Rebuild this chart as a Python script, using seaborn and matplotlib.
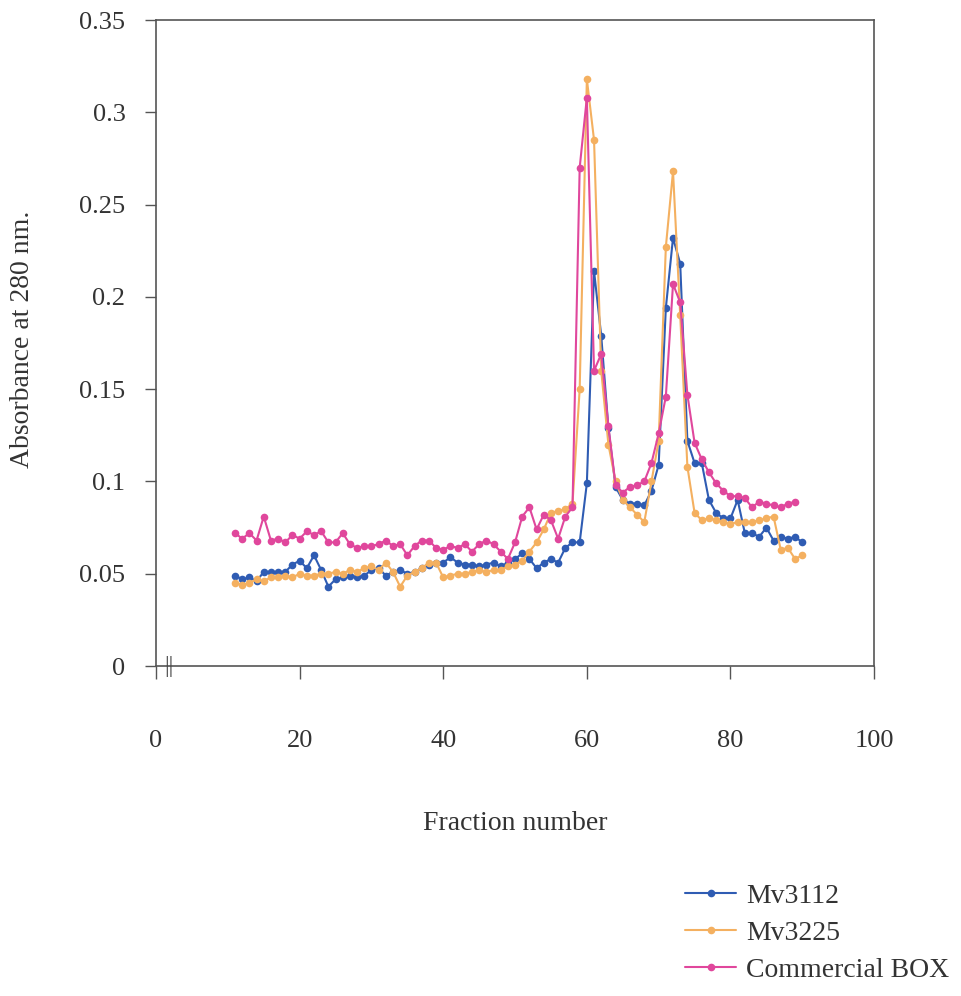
import matplotlib
matplotlib.use("Agg")
import matplotlib.pyplot as plt
import seaborn as sns
import pandas as pd

# Fraction numbers collected for each sample
fractions_mv3112 = [11, 12, 13, 14, 15, 16, 17, 18, 19, 20,
                    21, 22, 23, 24, 25, 26, 27, 28, 29, 30,
                    31, 32, 33, 34, 35, 36, 37, 38, 39, 40,
                    41, 42, 43, 44, 45, 46, 47, 48, 49, 50,
                    51, 52, 53, 54, 55, 56, 57, 58, 59, 60,
                    61, 62, 63, 64, 65, 66, 67, 68, 69, 70,
                    71, 72, 73, 74, 75, 76, 77, 78, 79, 80,
                    81, 82, 83, 84, 85, 86, 87, 88, 89, 90]
fractions_mv3225 = fractions_mv3112
fractions_box = fractions_mv3112[:-1]

# Absorbance at 280 nm for each fraction
abs_mv3112 = [0.049, 0.047, 0.048, 0.046, 0.051, 0.051, 0.051, 0.051, 0.055, 0.057,
              0.053, 0.060, 0.052, 0.043, 0.047, 0.048, 0.049, 0.048, 0.049, 0.052,
              0.053, 0.049, 0.051, 0.052, 0.050, 0.051, 0.053, 0.055, 0.056, 0.056,
              0.059, 0.056, 0.055, 0.055, 0.054, 0.055, 0.056, 0.054, 0.056, 0.058,
              0.061, 0.058, 0.053, 0.056, 0.058, 0.056, 0.064, 0.067, 0.067, 0.099,
              0.214, 0.179, 0.129, 0.097, 0.090, 0.088, 0.088, 0.087, 0.095, 0.109,
              0.194, 0.232, 0.218, 0.122, 0.110, 0.110, 0.090, 0.083, 0.080, 0.080,
              0.090, 0.072, 0.072, 0.070, 0.075, 0.068, 0.070, 0.069, 0.070, 0.067]

abs_mv3225 = [0.045, 0.044, 0.045, 0.047, 0.046, 0.048, 0.048, 0.049, 0.048, 0.050,
              0.049, 0.049, 0.050, 0.050, 0.051, 0.050, 0.052, 0.051, 0.053, 0.054,
              0.052, 0.056, 0.051, 0.043, 0.049, 0.051, 0.053, 0.056, 0.056, 0.048,
              0.049, 0.050, 0.050, 0.051, 0.052, 0.051, 0.052, 0.052, 0.054, 0.055,
              0.057, 0.062, 0.067, 0.074, 0.083, 0.084, 0.085, 0.088, 0.150, 0.318,
              0.285, 0.160, 0.120, 0.100, 0.090, 0.086, 0.082, 0.078, 0.100, 0.122,
              0.227, 0.268, 0.190, 0.108, 0.083, 0.079, 0.080, 0.079, 0.078, 0.077,
              0.078, 0.078, 0.078, 0.079, 0.080, 0.081, 0.063, 0.064, 0.058, 0.060]

abs_box = [0.072, 0.069, 0.072, 0.068, 0.081, 0.068, 0.069, 0.067, 0.071, 0.069,
           0.073, 0.071, 0.073, 0.067, 0.067, 0.072, 0.066, 0.064, 0.065, 0.065,
           0.066, 0.068, 0.065, 0.066, 0.060, 0.065, 0.068, 0.068, 0.064, 0.063,
           0.065, 0.064, 0.066, 0.062, 0.066, 0.068, 0.066, 0.062, 0.058, 0.067,
           0.081, 0.086, 0.074, 0.082, 0.079, 0.069, 0.081, 0.086, 0.270, 0.308,
           0.160, 0.169, 0.130, 0.098, 0.094, 0.097, 0.098, 0.100, 0.110, 0.126,
           0.146, 0.207, 0.197, 0.147, 0.121, 0.112, 0.105, 0.099, 0.095, 0.092,
           0.092, 0.091, 0.086, 0.089, 0.088, 0.087, 0.086, 0.088, 0.089]

sample_names = ["Mv3112", "Mv3225", "Commercial BOX"]
sample_colors = ["#2f5cb3", "#f4b060", "#e0479c"]

x_ticks = [0, 20, 40, 60, 80, 100]
y_ticks = [0, 0.05, 0.1, 0.15, 0.2, 0.25, 0.3, 0.35]
y_tick_labels = ["0", "0.05", "0.1", "0.15", "0.2", "0.25", "0.3", "0.35"]

df = pd.concat([
    pd.DataFrame({"fraction": fractions_mv3112, "absorbance": abs_mv3112, "sample": sample_names[0]}),
    pd.DataFrame({"fraction": fractions_mv3225, "absorbance": abs_mv3225, "sample": sample_names[1]}),
    pd.DataFrame({"fraction": fractions_box, "absorbance": abs_box, "sample": sample_names[2]}),
], ignore_index=True)

sns.set_theme(style="white")
plt.rcParams["font.family"] = ["Liberation Serif", "DejaVu Serif"]
plt.rcParams["text.color"] = "#333333"

fig = plt.figure(figsize=(9.62, 9.96), dpi=100)
ax = fig.add_axes([0.1622, 0.3313, 0.7464, 0.6486])

sns.lineplot(data=df, x="fraction", y="absorbance", hue="sample",
             hue_order=sample_names, palette=sample_colors,
             marker="o", markersize=5.5, markeredgewidth=0, linewidth=1.5,
             ax=ax, legend=True)

ax.set_xlim(0, 100)
ax.set_ylim(0, 0.35)
ax.set_xticks(x_ticks)
ax.set_xticklabels([str(t) for t in x_ticks])
ax.set_yticks(y_ticks)
ax.set_yticklabels(y_tick_labels)

for side in ["left", "right", "top", "bottom"]:
    ax.spines[side].set_visible(True)
    ax.spines[side].set_color("#555555")
    ax.spines[side].set_linewidth(1.2)

ax.tick_params(axis="y", direction="out", length=8, width=1, color="#555555",
               labelsize=19, labelcolor="#333333", pad=14, left=True)
ax.tick_params(axis="x", direction="out", length=9, width=1, color="#555555",
               labelsize=19, labelcolor="#333333", pad=37, bottom=True)

# axis-break marker near the origin
ax.text(1.8, 0, "||", fontsize=17, ha="center", va="center", color="#444444",
        clip_on=False)

ax.set_xlabel("Fraction number", fontsize=20, color="#333333")
ax.set_ylabel("Absorbance at 280 nm.", fontsize=20, color="#333333")
ax.xaxis.set_label_coords(0.5, -0.225)
ax.yaxis.set_label_coords(-0.168, 0.505)

handles, labels = ax.get_legend_handles_labels()
ax.get_legend().remove()
fig.legend(handles, labels, loc="upper left", bbox_to_anchor=(0.712, 0.113),
           frameon=False, fontsize=20, handlelength=1.85, handletextpad=0.35,
           labelspacing=0.42, borderpad=0, borderaxespad=0)

fig.savefig("out.png", dpi=100, facecolor="white")
